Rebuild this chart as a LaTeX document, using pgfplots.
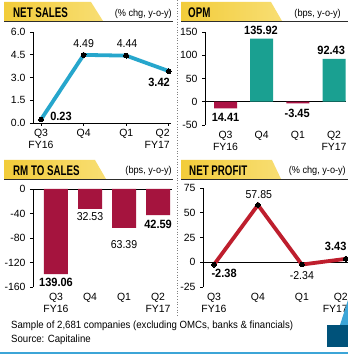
\documentclass[border=0pt]{standalone}
\usepackage{fontspec}
\setmainfont{Liberation Sans}[FakeStretch=0.92]
\newfontfamily\titlefont{Liberation Sans}[FakeStretch=0.70]
\newfontfamily\tickfont{Liberation Sans}
\usepackage{pgfplots}
\pgfplotsset{compat=1.18}
\definecolor{cyanl}{RGB}{38,166,204}
\definecolor{crim}{RGB}{172,18,68}
\definecolor{rmred}{RGB}{165,20,62}
\definecolor{tealb}{RGB}{26,160,145}
\definecolor{npred}{RGB}{190,30,45}
\definecolor{yb1}{RGB}{242,204,58}
\definecolor{yb2}{RGB}{248,222,115}
\definecolor{rulec}{RGB}{45,45,45}
\definecolor{lblue}{RGB}{60,165,215}
\definecolor{dblue}{RGB}{0,82,122}
\tikzset{
  lab/.style={font=\fontsize{11.5}{12}\selectfont},
  blab/.style={font=\fontsize{12}{12}\selectfont\bfseries},
}
\pgfplotsset{
  panelax/.style={
    scale only axis, clip=false, anchor=south west,
    axis y line*=left, axis x line*=bottom,
    tick align=outside, major tick length=3bp,
    axis line style={line width=0.9bp, black},
    tick style={line width=0.9bp, black},
    tick label style={font=\tickfont\fontsize{10.5}{11.5}\selectfont},
    xticklabel style={align=center},
    xtick={0,1,2,3},
    xticklabels={{Q3\\FY16},Q4,Q1,{Q2\\FY17}},
    /pgf/number format/assume math mode=true,
    yticklabel style={xshift=-1bp},
  },
  rightq2/.style={
    xtick={0,1,2}, xticklabels={{Q3\\FY16},Q4,Q1},
    extra x ticks={3}, extra x tick labels={{Q2\\FY17}},
    extra x tick style={xticklabel style={align=right, anchor=north east, xshift=#1}},
  },
  zeroline/.style={
    x axis line style={draw=none}, xtick style={draw=none},
    extra y ticks={0}, extra y tick labels={},
    extra y tick style={grid=major, major grid style={black, line width=0.9bp}, tick style={draw=none}},
  },
}
\begin{document}
\begin{tikzpicture}
\path[fill=white] (0,0) rectangle (348bp,357bp);
\path[use as bounding box] (0,0) rectangle (348bp,357bp);

% ---------- title bands ----------
\shade[left color=yb1, right color=yb2] (4bp,355bp) -- (91bp,355bp) -- (103bp,336bp) -- (4bp,336bp) -- cycle;
\draw[rulec, line width=1bp] (4bp,335.5bp) -- (173bp,335.5bp);
\node[anchor=base west, inner sep=0] at (13bp,339bp) {\titlefont\fontsize{14}{14}\selectfont\bfseries NET SALES};
\node[anchor=base east, inner sep=0] at (172bp,340bp) {\fontsize{10}{10}\selectfont (\% chg, y-o-y)};

\shade[left color=yb1, right color=yb2] (181bp,355bp) -- (271bp,355bp) -- (282bp,336bp) -- (181bp,336bp) -- cycle;
\draw[rulec, line width=1bp] (181bp,335.5bp) -- (348bp,335.5bp);
\node[anchor=base west, inner sep=0] at (188bp,339bp) {\titlefont\fontsize{14}{14}\selectfont\bfseries OPM};
\node[anchor=base east, inner sep=0] at (341bp,340bp) {\fontsize{10}{10}\selectfont (bps, y-o-y)};

\shade[left color=yb1, right color=yb2] (4bp,197bp) -- (95bp,197bp) -- (106bp,178bp) -- (4bp,178bp) -- cycle;
\draw[rulec, line width=1bp] (4bp,177.5bp) -- (173bp,177.5bp);
\node[anchor=base west, inner sep=0] at (13bp,181.5bp) {\titlefont\fontsize{14}{14}\selectfont\bfseries RM TO SALES};
\node[anchor=base east, inner sep=0] at (172bp,183bp) {\fontsize{10}{10}\selectfont (bps, y-o-y)};

\shade[left color=yb1, right color=yb2] (181bp,197bp) -- (272bp,197bp) -- (281bp,178bp) -- (181bp,178bp) -- cycle;
\draw[rulec, line width=1bp] (181bp,177.5bp) -- (348bp,177.5bp);
\node[anchor=base west, inner sep=0] at (189bp,181.5bp) {\titlefont\fontsize{14}{14}\selectfont\bfseries NET PROFIT};
\node[anchor=base east, inner sep=0] at (346bp,183bp) {\fontsize{10}{10}\selectfont (\% chg, y-o-y)};

% separator
\draw[gray, dotted, line width=0.7bp] (177.5bp,357bp) -- (177.5bp,40bp);

% ---------- NET SALES ----------
\begin{axis}[panelax, rightq2=4.3bp, at={(33bp,234bp)}, width=138bp, height=91bp,
  xmin=-0.1875, xmax=3.05, ymin=0, ymax=6,
  ytick={0,1.5,3,4.5,6},
  yticklabel style={/pgf/number format/.cd, fixed, fixed zerofill, precision=1}]
\addplot[cyanl, line width=3.8bp, mark=*, mark size=2.4bp,
  mark options={fill=black, draw=black, line width=0pt}]
  coordinates {(0,0.23) (1,4.49) (2,4.44) (3,3.42)};
\node[blab] at (axis cs:0.47,0.46) {0.23};
\node[lab] at (axis cs:1,5.21) {4.49};
\node[lab] at (axis cs:2.02,5.21) {4.44};
\node[blab] at (axis cs:2.77,2.70) {3.42};
\end{axis}

% ---------- OPM ----------
\begin{axis}[panelax, zeroline, at={(205bp,232bp)}, width=141bp, height=93bp,
  xmin=-0.567, xmax=3.33, ymin=-50, ymax=150,
  ytick={-50,0,50,100,150}]
\addplot[ybar, bar width=23bp, fill=crim, draw=none] coordinates {(0,-14.41) (2,-3.45)};
\addplot[ybar, bar width=23bp, fill=tealb, draw=none] coordinates {(1,135.92) (3,92.43)};
\node[blab] at (axis cs:0,-32.8) {14.41};
\node[blab] at (axis cs:0.98,154) {135.92};
\node[blab] at (axis cs:1.98,-24) {-3.45};
\node[blab] at (axis cs:2.92,111) {92.43};
\end{axis}

% ---------- RM TO SALES ----------
\begin{axis}[panelax, zeroline, at={(33bp,70bp)}, width=139bp, height=98bp,
  xmin=-0.676, xmax=3.41, ymin=-160, ymax=0,
  ytick={-160,-120,-80,-40,0}]
\addplot[ybar, bar width=24bp, fill=rmred, draw=none]
  coordinates {(0,-139.06) (1,-32.53) (2,-63.39) (3,-42.59)};
\node[blab] at (axis cs:0,-152) {139.06};
\node[lab] at (axis cs:1,-45.7) {32.53};
\node[lab] at (axis cs:2,-91.4) {63.39};
\node[blab] at (axis cs:3,-57) {42.59};
\end{axis}

% ---------- NET PROFIT ----------
\begin{axis}[panelax, zeroline, rightq2=5.5bp, at={(203bp,70bp)}, width=145bp, height=99bp,
  xmin=-0.25, xmax=3.05, ymin=-25, ymax=75,
  ytick={-25,0,25,50,75}]
\addplot[npred, line width=3.8bp, mark=*, mark size=2.4bp,
  mark options={fill=black, draw=black, line width=0pt}]
  coordinates {(0,-2.38) (1,57.85) (2,-2.34) (3,3.43)};
\node[blab] at (axis cs:0.23,-11) {-2.38};
\node[lab] at (axis cs:1.02,68.7) {57.85};
\node[lab] at (axis cs:2,-13) {-2.34};
\node[blab] at (axis cs:2.77,16) {3.43};
\end{axis}

% ---------- footnote ----------
\node[anchor=base west, inner sep=0] at (11bp,29bp) {\fontsize{10.5}{12}\selectfont Sample of 2,681 companies (excluding OMCs, banks \& financials)};
\node[anchor=base west, inner sep=0] at (11bp,15bp) {\fontsize{10.5}{12}\selectfont Source: Capitaline};
\draw[lblue, line width=1.5bp] (0,4bp) -- (348bp,4bp);
\fill[dblue] (327bp,10bp) rectangle (348bp,32bp);
\fill[lblue] (340bp,32bp) -- (348bp,32bp) -- (348bp,57bp) -- cycle;
\end{tikzpicture}
\end{document}
